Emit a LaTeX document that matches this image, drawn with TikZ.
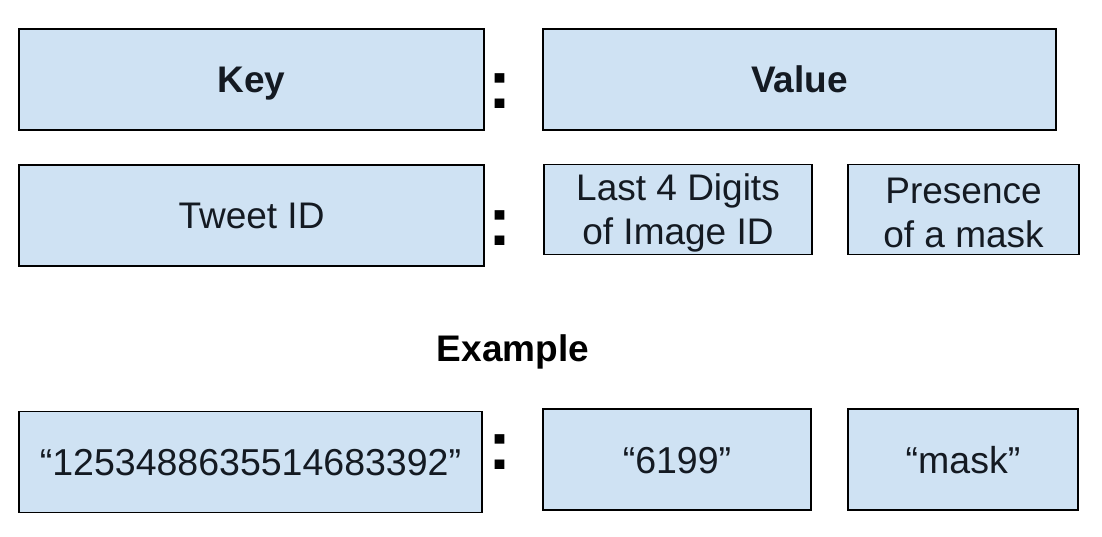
\documentclass[tikz,border=0pt]{standalone}
\usepackage{fontspec}
\setmainfont{Liberation Sans}
\definecolor{boxfill}{HTML}{CFE2F3}
\definecolor{txt}{HTML}{141A22}
\begin{document}
\begin{tikzpicture}[x=1pt,y=-1pt,
  box/.style={draw=black, line width=1.6pt, fill=boxfill, inner sep=0pt, text=txt,
              font=\fontsize{37}{44}\selectfont},
  twoline/.style={box, align=center},
  oneline/.style={text height=26.5pt, text depth=0pt},
  boldbox/.style={box, oneline, font=\fontsize{37}{44}\selectfont\bfseries},
  exbox/.style={box, text height=27.5pt, text depth=0pt, font=\fontsize{37.5}{44}\selectfont},
  colon/.style={inner sep=0pt, text=black, font=\fontsize{69}{69}\selectfont\bfseries},
  heading/.style={inner sep=0pt, oneline, text=black, font=\fontsize{37}{44}\selectfont\bfseries}]
\useasboundingbox (0,0) rectangle (1102,537);
% row 1
\node[boldbox, minimum width=465pt, minimum height=101pt] (key) at (251.5,79.5) {Key};
\node[colon] (c1) at (500,91) {:};
\node[boldbox, minimum width=513pt, minimum height=101pt] (value) at (799.5,79.5) {Value};
% row 2
\node[box, oneline, minimum width=465pt, minimum height=101pt] (tweet) at (251.5,215.5) {Tweet ID};
\node[colon] (c2) at (500,228.5) {:};
\node[twoline, minimum width=268pt, minimum height=90pt] (last) at (678,209.5) {};
\node[twoline, minimum width=231pt, minimum height=90pt] (presence) at (963.5,209.5) {};
\node[inner sep=0pt, text=txt, align=center, font=\fontsize{37}{44}\selectfont] (lasttext) at (678,212.5) {Last 4 Digits\\of Image ID};
\node[inner sep=0pt, text=txt, align=center, font=\fontsize{37}{44}\selectfont] (prestext) at (963.5,212.5) {Presence\\of a mask};
% heading
\node[heading] (example) at (513,348) {Example};
% row 3
\node[exbox, minimum width=463pt, minimum height=101pt] (ex1) at (250.5,462) {“1253488635514683392”};
\node[colon] (c3) at (499.5,452.5) {:};
\node[exbox, minimum width=268pt, minimum height=101pt] (ex2) at (677,459.5) {“6199”};
\node[exbox, minimum width=230pt, minimum height=101pt] (ex3) at (963,459.5) {“mask”};
\end{tikzpicture}
\end{document}
